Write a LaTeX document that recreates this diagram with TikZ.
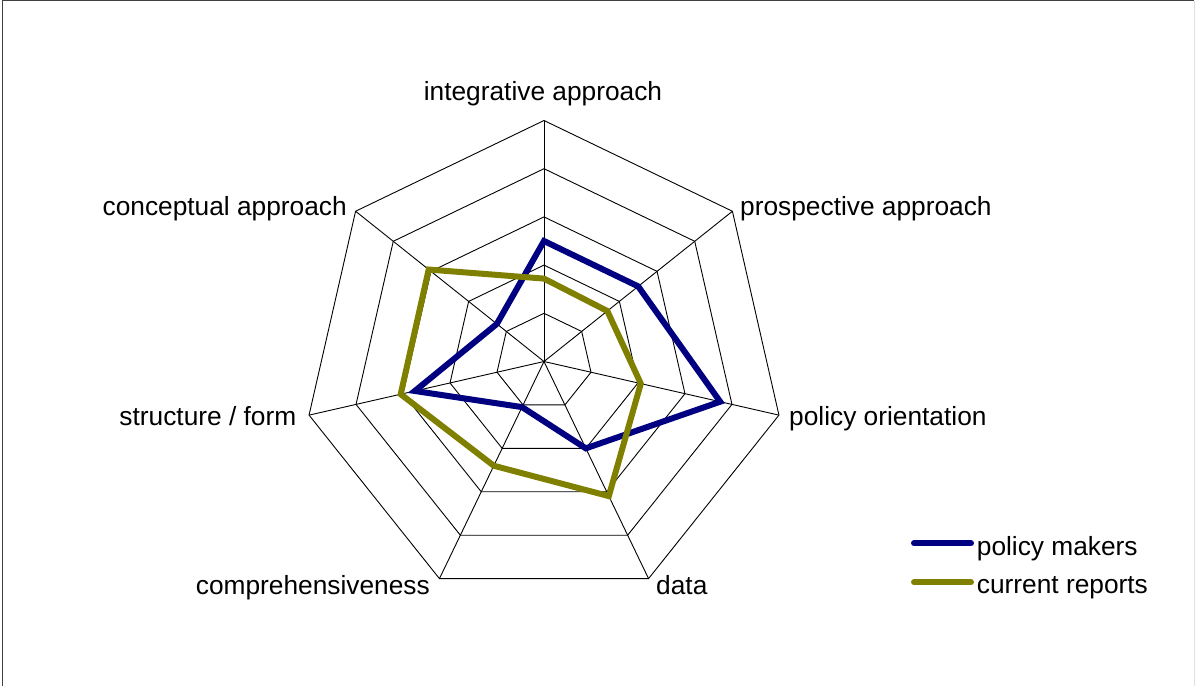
\documentclass[tikz,border=0pt]{standalone}
\usepackage{fontspec}
\setmainfont{Liberation Sans}
\definecolor{pmblue}{HTML}{000080}
\definecolor{crolive}{HTML}{808000}
\begin{document}
\begin{tikzpicture}[x=1pt,y=1pt,
  every node/.style={inner sep=0pt, font=\fontsize{26.3}{30}\selectfont},
  gridline/.style={black, line width=0.9pt},
  seriespm/.style={pmblue, line width=6pt},
  seriescr/.style={crolive, line width=6pt},
  legendline/.style={line width=6pt, line cap=round}]
\useasboundingbox (0,0) rectangle (1195,-686);
% frame
\draw[black!75, line width=1.2pt] (2.8,-686) -- (2.8,-0.6) -- (1194,-0.6);
\draw[black!12, line width=1pt] (1194.3,-0.6) -- (1194.3,-686);
\begin{scope}[shift={(544,-361.5)}]
  \coordinate (O) at (0,0);
  \foreach \k in {0,...,6} {
    \coordinate (V\k) at ({90-\k*360/7}:241pt);
    \draw[gridline] (O) -- (V\k);
  }
  \foreach \r in {1,...,5}
    \draw[gridline] (90:\r*48.2pt) \foreach \k in {1,...,6} { -- ({90-\k*360/7}:\r*48.2pt) } -- cycle;
  % policy makers
  \draw[seriespm] (90:120.5pt) -- (38.571:120.5pt) -- (-12.857:180.7pt) -- (-64.286:96.4pt)
     -- (-115.714:50.6pt) -- (-167.143:132.5pt) -- (141.429:60.3pt) -- cycle;
  % current reports
  \draw[seriescr] (90:82.9pt) -- (38.571:81pt) -- (-12.857:99.3pt) -- (-64.286:149.4pt)
     -- (-115.714:115.7pt) -- (-167.143:147pt) -- (141.429:147.5pt) -- cycle;
\end{scope}
% axis labels
\node[anchor=base] (lint) at (543,-100) {integrative approach};
\node[anchor=base west] (lpro) at (740,-215) {prospective approach};
\node[anchor=base west] (lpol) at (789,-425) {policy orientation};
\node[anchor=base west] (ldat) at (656,-594) {data};
\node[anchor=base east] (lcom) at (430,-594) {comprehensiveness};
\node[anchor=base east] (lstr) at (296.5,-425) {structure / form};
\node[anchor=base east] (lcon) at (347,-215) {conceptual approach};
% legend
\coordinate (lga) at (914,-543.3);
\coordinate (lgb) at (971,-543.3);
\coordinate (lgc) at (914,-582.3);
\coordinate (lgd) at (971,-582.3);
\draw[legendline, pmblue] (lga) -- (lgb);
\draw[legendline, crolive] (lgc) -- (lgd);
\node[anchor=base west] (lpm) at (976.7,-555) {policy makers};
\node[anchor=base west] (lcr) at (976.7,-593.5) {current reports};
\end{tikzpicture}
\end{document}
